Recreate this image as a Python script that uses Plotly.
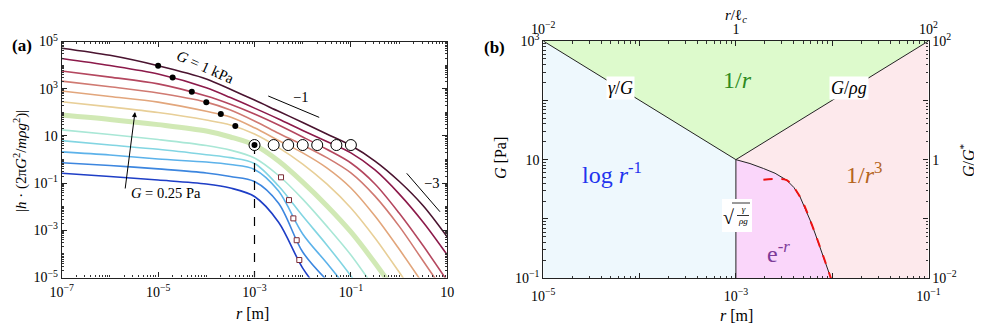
import plotly.graph_objects as go

W, H = 982, 328
OFF = 8  # the page body adds an 8px margin around the figure
FONT = "Liberation Serif"

# ---------------- panel (a): normalised profiles |h| vs r ----------------
R_SAMPLES = [1e-7, 1e-6, 1e-5, 1e-4, 3.16e-4, 1e-3, 3.16e-3, 1e-2, 3.16e-2,
             1e-1, 0.316, 1.0, 3.16, 10.0]

H_G1000 = [5.2e4, 2.6e4, 9.4e3, 2.6e3, 940, 330, 110, 37, 12, 3.9, 0.86, 0.12, 1.1e-2, 5.2e-4]
H_G500 = [1.9e4, 9.6e3, 4.2e3, 1.1e3, 420, 150, 52, 17, 5.8, 1.9, 0.36, 3.5e-2, 2.2e-3, 9.0e-5]
H_G200 = [5.6e3, 3.1e3, 1.6e3, 490, 220, 85, 29, 9.0, 2.7, 0.71, 9.2e-2, 5.4e-3, 2.2e-4, 7.1e-6]
H_G100 = [2.1e3, 1.2e3, 660, 270, 125, 43, 13, 4.1, 1.2, 0.27, 2.8e-2, 1.5e-3, 5.0e-5, 1.6e-6]
H_G50 = [800, 470, 270, 110, 63, 22, 6.4, 1.9, 0.44, 6.2e-2, 4.0e-3, 1.6e-4, 5.3e-6]
H_G25 = [280, 170, 98, 47, 29, 12, 3.2, 0.64, 9.2e-2, 8.8e-3, 4.7e-4, 1.7e-5, 5.6e-7]
H_G10 = [77, 50, 30, 16, 9.0, 4.1, 0.86, 0.11, 1.1e-2, 8.5e-4, 4.1e-5, 1.5e-6]
H_G4 = [18, 11.5, 7.0, 3.9, 2.5, 1.16, 0.21, 2.1e-2, 1.5e-3, 9.0e-5, 3.3e-6]
H_G2 = [6.3, 4.1, 2.7, 1.6, 1.2, 0.68, 7.5e-2, 4.0e-3, 2.4e-4, 1.16e-5, 3.8e-7]
H_G1 = [2.1, 1.55, 1.05, 0.78, 0.61, 0.38, 4.6e-2, 7.0e-4, 4.1e-5, 2.2e-6]
H_G05 = [0.73, 0.56, 0.40, 0.27, 0.19, 0.117, 1.4e-2, 1.2e-4, 7.8e-6]
H_G025 = [0.26, 0.19, 0.135, 9.2e-2, 6.2e-2, 2.7e-2, 2.2e-3, 2.5e-5, 1.1e-6]

PROFILES = [H_G1000, H_G500, H_G200, H_G100, H_G50, H_G25,
            H_G10, H_G4, H_G2, H_G1, H_G05, H_G025]
CURVE_COLORS = ["#4a1430", "#8c1a4a", "#b4475f", "#d07a72", "#e2a67c", "#e8cf98",
                "#c9e6a9", "#a9e7d6", "#82d5e2", "#5cb2ea", "#3c86df", "#1e3ec6"]
HIGHLIGHT = 6  # G = G* curve drawn thick

# crossover markers
DOT_R = [1e-5, 2e-5, 5e-5, 1e-4, 2e-4, 4e-4, 1e-3]
DOT_H = [9.4e3, 3.0e3, 750, 265, 85, 26, 4.1]
CIRCLE_R = [1e-1, 5e-2, 2e-2, 1e-2, 5e-3, 2.5e-3, 1e-3]
CIRCLE_H = [4.1, 4.1, 4.1, 4.1, 4.1, 4.1, 4.1]
SQUARE_R = [3.55e-3, 5.2e-3, 6.4e-3, 7.5e-3, 8.5e-3]
SQUARE_H = [0.176, 1.9e-2, 3.2e-3, 3.8e-4, 5.5e-5]

# slope guides
GUIDE1_R, GUIDE1_H = [1.93e-3, 2.2e-2], [490, 61]
GUIDE3_R, GUIDE3_H = [1.44, 7.06], [0.26, 6.1e-3]
LC_R, LC_H = [1e-3, 1e-3], [4.1, 1e-5]

A_XTICKS = [1e-7, 1e-5, 1e-3, 1e-1, 10]
A_XTEXT = ["10<sup>−7</sup>", "10<sup>−5</sup>", "10<sup>−3</sup>", "10<sup>−1</sup>", "10"]
A_YTICKS = [1e5, 1e3, 10, 1e-1, 1e-3, 1e-5]
A_YTEXT = ["10<sup>5</sup>", "10<sup>3</sup>", "10", "10<sup>−1</sup>", "10<sup>−3</sup>", "10<sup>−5</sup>"]

# ---------------- panel (b): phase diagram G vs r ----------------
R_GAMMA, G_GAMMA = [1e-5, 1e-3], [1e3, 10]     # r = gamma/G
R_GRAV, G_GRAV = [1e-3, 1e-1], [10, 1e3]       # r = G/rho g
R_EXP = [1e-3, 1.4e-3, 1.93e-3, 2.55e-3, 3.37e-3, 4.0e-3, 4.63e-3, 5.22e-3,
         5.89e-3, 6.62e-3, 7.46e-3, 8.51e-3, 9.7e-3]
G_EXP = [10, 8.6, 7.1, 5.9, 4.5, 3.4, 2.37, 1.53, 0.96, 0.58, 0.34, 0.19, 0.1]
R_FIT = [1.93e-3, 2.55e-3, 3.37e-3, 4.63e-3, 5.89e-3, 7.46e-3, 9.7e-3]
G_FIT = [4.6, 4.7, 4.5, 2.37, 0.96, 0.34, 0.1]
R_MIN, R_MAX = 1e-5, 1e-1
G_MIN, G_MAX = 0.1, 1e3

B_XTICKS = [1e-5, 1e-4, 1e-3, 1e-2, 1e-1]
B_XTEXT = ["10<sup>−5</sup>", "", "10<sup>−3</sup>", "", "10<sup>−1</sup>"]
B_YTICKS = [0.1, 1, 10, 100, 1000]
B_YTEXT = ["10<sup>−1</sup>", "", "10", "", "10<sup>3</sup>"]
B_TOPTICKS = [1e-2, 1e-1, 1, 10, 100]
B_TOPTEXT = ["10<sup>−2</sup>", "", "1", "", "10<sup>2</sup>"]
B_RTICKS = [1e-2, 1e-1, 1, 10, 100]
B_RTEXT = ["10<sup>−2</sup>", "", "1", "", "10<sup>2</sup>"]


def paper(x, y):
    # screen pixel -> paper fraction
    return (x - OFF) / W, 1 - (y - OFF) / H


fig = go.Figure()

# ---- (a) curves
for i, (prof, col) in enumerate(zip(PROFILES, CURVE_COLORS)):
    thick = i == HIGHLIGHT
    fig.add_trace(go.Scatter(
        x=R_SAMPLES[:len(prof)], y=prof, mode="lines",
        line=dict(color=col, width=5 if thick else 1.6, shape="spline", smoothing=0.9),
        opacity=0.85 if thick else 1, hoverinfo="skip", xaxis="x", yaxis="y"))

for gx, gy in [(GUIDE1_R, GUIDE1_H), (GUIDE3_R, GUIDE3_H)]:
    fig.add_trace(go.Scatter(x=gx, y=gy, mode="lines", line=dict(color="black", width=1),
                             hoverinfo="skip", xaxis="x", yaxis="y"))
fig.add_trace(go.Scatter(x=LC_R, y=LC_H, mode="lines",
                         line=dict(color="black", width=1.2, dash="dash"),
                         hoverinfo="skip", xaxis="x", yaxis="y"))
fig.add_trace(go.Scatter(x=SQUARE_R, y=SQUARE_H, mode="markers",
                         marker=dict(symbol="square", size=5, color="white",
                                     line=dict(color="#7a2a35", width=1)),
                         hoverinfo="skip", xaxis="x", yaxis="y"))
fig.add_trace(go.Scatter(x=CIRCLE_R, y=CIRCLE_H, mode="markers",
                         marker=dict(symbol="circle", size=11, color="white",
                                     line=dict(color="black", width=1)),
                         hoverinfo="skip", xaxis="x", yaxis="y"))
fig.add_trace(go.Scatter(x=DOT_R, y=DOT_H, mode="markers",
                         marker=dict(symbol="circle", size=6, color="black"),
                         hoverinfo="skip", xaxis="x", yaxis="y"))


# ---- (b) regions
def region(xs, ys, color):
    fig.add_trace(go.Scatter(x=xs, y=ys, mode="lines", fill="toself", fillcolor=color,
                             line=dict(width=0), hoverinfo="skip", xaxis="x2", yaxis="y2"))


region(R_GAMMA + [R_GAMMA[1], R_MIN], G_GAMMA + [G_MIN, G_MIN], "#eef8fd")
region(R_GAMMA + R_GRAV[1:], G_GAMMA + G_GRAV[1:], "#ddfacc")
region(R_GRAV + [R_MAX] + R_EXP[::-1], G_GRAV + [G_MIN] + G_EXP[::-1], "#fde9ec")
region(R_EXP + [R_EXP[0]], G_EXP + [G_MIN], "#fad6fa")

for bx, by in [(R_GAMMA, G_GAMMA), (R_GRAV, G_GRAV), (R_EXP, G_EXP),
               ([R_EXP[0], R_EXP[0]], [G_EXP[0], G_MIN])]:
    fig.add_trace(go.Scatter(x=bx, y=by, mode="lines", line=dict(color="#222", width=1),
                             hoverinfo="skip", xaxis="x2", yaxis="y2"))
fig.add_trace(go.Scatter(x=R_FIT, y=G_FIT, mode="lines",
                         line=dict(color="#ee1111", width=2, dash="dash", shape="spline"),
                         hoverinfo="skip", xaxis="x2", yaxis="y2"))

# dummy traces so the secondary axes get drawn
fig.add_trace(go.Scatter(x=[1e-2, 1e2], y=[1, 1], mode="markers", marker=dict(opacity=0),
                         hoverinfo="skip", xaxis="x3", yaxis="y2"))
fig.add_trace(go.Scatter(x=[1e-3, 1e-3], y=[1e-2, 1e2], mode="markers", marker=dict(opacity=0),
                         hoverinfo="skip", xaxis="x2", yaxis="y3"))

tickfont = dict(family=FONT, size=14, color="black")
minor = dict(ticks="inside", ticklen=2.5, dtick="D1", tickcolor="#333", tickwidth=0.8)
base = dict(type="log", showgrid=False, zeroline=False, showline=True, linecolor="#222",
            linewidth=1.1, ticks="inside", ticklen=5, tickcolor="#222", tickmode="array",
            tickfont=tickfont, minor=minor, automargin=False)


def xdom(x0, x1):
    return [paper(x0, 0)[0], paper(x1, 0)[0]]


def ydom(y_bottom, y_top):
    return [paper(0, y_bottom)[1], paper(0, y_top)[1]]


fig.update_layout(
    template="none",
    width=W, height=H, margin=dict(l=0, r=0, t=0, b=0, pad=0), autosize=False,
    paper_bgcolor="white", plot_bgcolor="white", showlegend=False,
    font=dict(family=FONT, size=13, color="black"),
    xaxis=dict(base, domain=xdom(61.7, 447.3), range=[-7, 1], anchor="y", mirror="allticks",
               tickvals=A_XTICKS, ticktext=A_XTEXT, ticklabelstandoff=2),
    yaxis=dict(base, domain=ydom(277.5, 41.5), range=[-5, 5], anchor="x", mirror="allticks",
               tickvals=A_YTICKS, ticktext=A_YTEXT),
    xaxis2=dict(base, domain=xdom(543.3, 928.5), range=[-5, -1], anchor="y2",
                tickvals=B_XTICKS, ticktext=B_XTEXT, ticklabelstandoff=5),
    yaxis2=dict(base, domain=ydom(278.3, 41.0), range=[-1, 3], anchor="x2",
                tickvals=B_YTICKS, ticktext=B_YTEXT),
    xaxis3=dict(base, range=[-2, 2], overlaying="x2", side="top", anchor="y2",
                tickvals=B_TOPTICKS, ticktext=B_TOPTEXT),
    yaxis3=dict(base, range=[-2, 2], overlaying="y2", side="right", anchor="x2",
                tickvals=B_RTICKS, ticktext=B_RTEXT),
)

# white box behind the sqrt(gamma/rho g) label, with its bars
bx0, by0 = paper(722, 199)
bx1, by1 = paper(752, 232)
fig.add_shape(type="rect", xref="paper", yref="paper", x0=bx0, y0=by0, x1=bx1, y1=by1,
              fillcolor="white", line=dict(width=0), layer="above")
for (xa, ya), (xb, yb) in [((732, 203), (750, 203)), ((737, 215.5), (749, 215.5))]:
    p0, p1 = paper(xa, ya), paper(xb, yb)
    fig.add_shape(type="line", xref="paper", yref="paper", x0=p0[0], y0=p0[1],
                  x1=p1[0], y1=p1[1], line=dict(color="black", width=0.8), layer="above")

annots = [
    # panel (a)
    dict(pos=(22, 45), text="<b>(a)</b>", size=17),
    dict(pos=(20, 161), text="|<i>h</i> · (2π<i>G</i><sup>2</sup>/<i>mρg</i><sup>2</sup>)|",
         size=15, angle=-90),
    dict(pos=(252, 313), text="<i>r</i> [m]", size=16),
    dict(pos=(205, 67), text="<i>G</i> = 1 kPa", size=15, angle=24),
    dict(pos=(166, 193), text="<i>G</i> = 0.25 Pa", size=14.5),
    dict(pos=(300, 97), text="−1", size=14.5),
    dict(pos=(431, 183), text="−3", size=14.5),
    # panel (b)
    dict(pos=(494, 47), text="<b>(b)</b>", size=17),
    dict(pos=(500, 158), text="<i>G</i> [Pa]", size=16, angle=-90),
    dict(pos=(736, 315), text="<i>r</i> [m]", size=16),
    dict(pos=(736, 16), text="<i>r</i>/ℓ<sub><i>c</i></sub>", size=15),
    dict(pos=(967, 160), text="<i>G</i>/<i>G</i><sup>*</sup>", size=16, angle=-90),
    dict(pos=(620, 88), text="<i>γ</i>/<i>G</i>", size=18, bg="white"),
    dict(pos=(849, 88), text="<i>G</i>/<i>ρg</i>", size=18, bg="white"),
    dict(pos=(737, 80), text="1/<i>r</i>", size=24, color="#2e8b1e"),
    dict(pos=(612, 173), text="log <i>r</i><sup>-1</sup>", size=24, color="#2233ee"),
    dict(pos=(864, 173), text="1/<i>r</i><sup>3</sup>", size=24, color="#b5651d"),
    dict(pos=(778, 252), text="e<sup>-<i>r</i></sup>", size=24, color="#7d3c98"),
    dict(pos=(728, 217), text="√", size=20),
    dict(pos=(743, 215), text="<i>γ</i><br><i>ρg</i>", size=9),
]
for a in annots:
    x, y = paper(*a["pos"])
    fig.add_annotation(x=x, y=y, xref="paper", yref="paper", text=a["text"], showarrow=False,
                       xanchor="center", yanchor="middle",
                       textangle=a.get("angle", 0), bgcolor=a.get("bg"),
                       borderpad=1,
                       font=dict(family=FONT, size=a["size"], color=a.get("color", "black")))

# arrow from G = 0.25 Pa towards G = 1 kPa
hx, hy = paper(135, 112)
fig.add_annotation(x=hx, y=hy, xref="paper", yref="paper", text="", showarrow=True,
                   ax=-10, ay=78, arrowhead=2, arrowsize=1, arrowwidth=1, arrowcolor="black")

fig.write_html("out.html")
